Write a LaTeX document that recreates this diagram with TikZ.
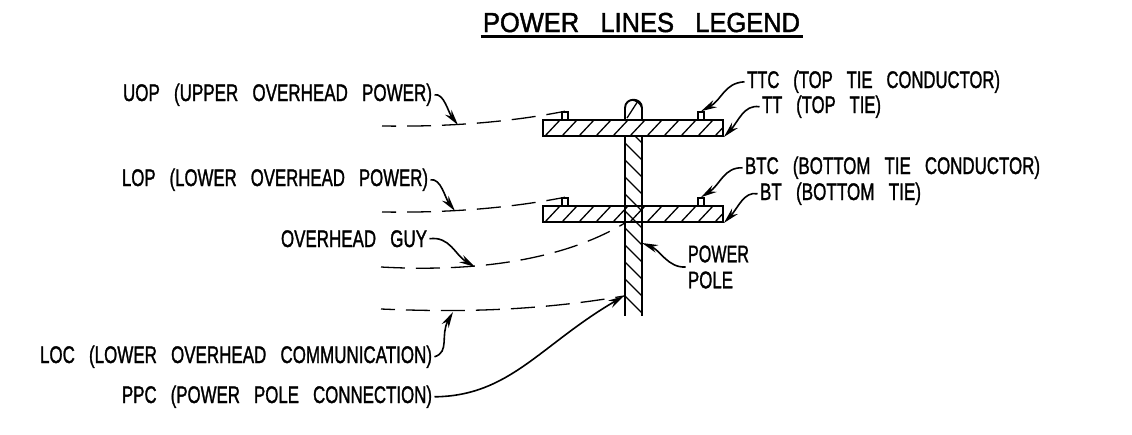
\documentclass[tikz,border=0pt]{standalone}
\usepackage{fontspec}
\setmainfont[FakeBold=1.6,WordSpace=3]{Liberation Sans}
\usetikzlibrary{arrows.meta}
\newcommand{\lbl}[2]{\resizebox{#1pt}{\height}{\fontsize{24}{26}\selectfont #2}}
\tikzset{
  x=1pt,y=-1pt,
  txt/.style={inner sep=0pt,outer sep=2.5pt,anchor=base west,text=black},
  part/.style={draw=black,line width=1.9pt,inner sep=0pt,minimum width=180pt,minimum height=16pt},
  ins/.style={draw=black,line width=1.5pt,inner sep=0pt,minimum width=6pt,minimum height=8pt},
  hatch/.style={line width=1.3pt,black},
  pline/.style={line width=1.9pt,black},
  wire/.style={line width=1.3pt,black,dash pattern=on 24pt off 11pt,dash phase=10pt},
  lead/.style={line width=1.6pt,black,-{Stealth[length=16pt,width=8pt]}},
}
\begin{document}
\begin{tikzpicture}
\useasboundingbox (0,0) rectangle (1132,434);
% title
\node[txt] (title) at (480.5,32) {\resizebox{317pt}{\height}{\fontsize{27.5}{28}\selectfont POWER\ LINES\ LEGEND}};
\draw[line width=3pt] (title.south west) ++(0,2) coordinate (ula) (ula) -- (ula -| title.south east);
% pole hatch
\begin{scope}
\clip (625,136) rectangle (642,316);
\foreach \y in {126,143,...,310} \draw[hatch] (625,\y) -- (642,\y+17);
\end{scope}
% arm hatch
\begin{scope}
\clip (543,120) rectangle (723,136);
\foreach \x in {545,562,...,715} \draw[hatch] (\x,136) -- (\x+15,120);
\end{scope}
\begin{scope}
\clip (543,206) rectangle (723,222);
\foreach \x in {545,562,...,715} \draw[hatch] (\x,222) -- (\x+15,206);
\end{scope}
% pole
\draw[pline] (625,136) -- (625,316) (642,136) -- (642,316);
\draw[pline] (625,120) -- (625,108) .. controls (625,97) and (642,97) .. (642,108) -- (642,120);
\draw[hatch] (631,100) .. controls (636,100) and (640,103) .. (642,108);
\draw[hatch] (627,118) -- (638,101);
% arms
\node[part] (arm1) at (633,128) {};
\node[part] (arm2) at (633,214) {};
% insulators
\node[ins] (i1) at (565,116) {};
\node[ins] (i2) at (701,116) {};
\node[ins] (i3) at (565,202) {};
\node[ins] (i4) at (701,202) {};
% labels
\node[txt] (uop) at (120.5,101) {\lbl{309}{UOP (UPPER OVERHEAD POWER)}};
\node[txt] (lop) at (119.5,186) {\lbl{306}{LOP (LOWER OVERHEAD POWER)}};
\node[txt] (guy) at (278.5,247) {\lbl{146}{OVERHEAD GUY}};
\node[txt] (loc) at (37.5,363) {\lbl{392}{LOC (LOWER OVERHEAD COMMUNICATION)}};
\node[txt] (ppc) at (119.5,403) {\lbl{310}{PPC (POWER POLE CONNECTION)}};
\node[txt] (ttc) at (744.5,88) {\lbl{253}{TTC (TOP TIE CONDUCTOR)}};
\node[txt] (tt) at (759.5,113) {\lbl{119}{TT (TOP TIE)}};
\node[txt] (btc) at (742.5,174) {\lbl{295}{BTC (BOTTOM TIE CONDUCTOR)}};
\node[txt] (bt) at (757.5,200) {\lbl{161}{BT (BOTTOM TIE)}};
\node[inner sep=0pt,outer sep=2.5pt,anchor=west,align=left,font=\fontsize{24}{26}\selectfont] (pp) at (685.5,267) {\lbl{61}{POWER}\\\lbl{45}{POLE}};
% wire ends
\coordinate (u0) at (382,126); \coordinate (l0) at (382,212);
\coordinate (g0) at (381,267); \coordinate (c0) at (381,309);
\coordinate (uT) at (458,125); \coordinate (lT) at (455,211);
\coordinate (gT) at (475,267); \coordinate (cT) at (453,312);
\coordinate (pT) at (624,296); \coordinate (ppT) at (642,243);
% wires
\draw[wire] (u0) .. controls (450,127) and (510,122) .. (i1.north);
\draw[wire] (l0) .. controls (450,213) and (510,208) .. (i3.north);
\draw[wire,dash phase=0pt] (g0) .. controls (470,272) and (560,262) .. (arm2.south -| 625,0);
\draw[wire] (c0) .. controls (450,312) and (530,312) .. (pT);
% leaders
\draw[lead] (uop.east) .. controls (444,93) and (448,112) .. (uT);
\draw[lead] (lop.east) .. controls (441,178) and (445,198) .. (lT);
\draw[lead] (guy.east) .. controls (450,236) and (455,255) .. (gT);
\draw[lead] (loc.east) .. controls (450,352) and (440,335) .. (cT);
\draw[lead] (ppc.east) .. controls (510,396) and (540,345) .. (pT);
\draw[lead] (pp.west) .. controls (668,268) and (660,250) .. (ppT);
\draw[lead] (ttc.west) .. controls (724,83) and (722,100) .. (i2.north);
\draw[lead] (tt.west) .. controls (744,104) and (738,122) .. (arm1.south east);
\draw[lead] (btc.west) .. controls (724,167) and (720,185) .. (i4.north);
\draw[lead] (bt.west) .. controls (744,191) and (738,208) .. (arm2.south east);
\end{tikzpicture}
\end{document}
